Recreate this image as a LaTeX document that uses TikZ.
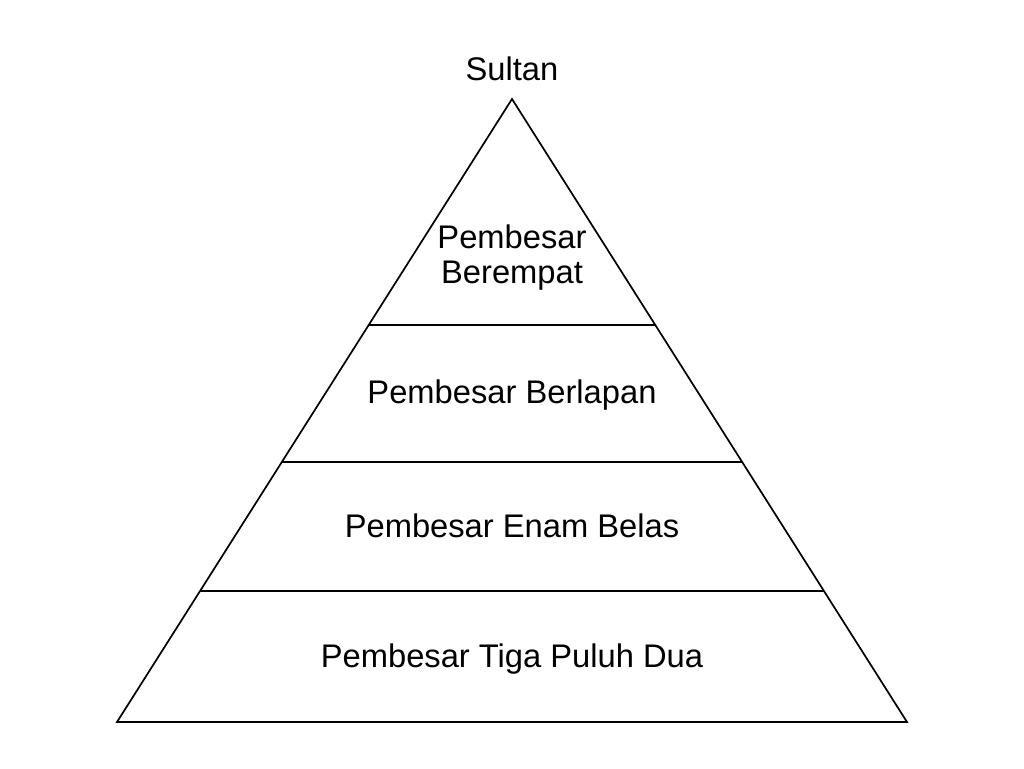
\documentclass[tikz,border=0pt]{standalone}
\usepackage{fontspec}
\setmainfont{Liberation Sans}
\begin{document}
\begin{tikzpicture}[x=1pt,y=-1pt,line width=1.7pt,
   tier/.style={font=\fontsize{32.7}{35}\selectfont,align=center}]
   \useasboundingbox[fill=white] (0,0) rectangle (1024,768);
   \coordinate (top) at (512,99);
   \coordinate (bl) at (117,722);
   \coordinate (br) at (907,722);
   \draw (top) -- (br) -- (bl) -- cycle;
   \draw (368.7,325) -- (655.3,325)
   (282,462) -- (742,462)
   (200.3,591) -- (823.7,591);
   \node[tier] (sultan) at (512,69) {Sultan};
   \node[tier] (empat) at (512,258) {Pembesar\\Berempat};
   \node[tier] (lapan) at (512,395) {Pembesar Berlapan};
   \node[tier] (enam) at (512,526) {Pembesar Enam Belas};
   \node[tier] (tiga) at (512,659) {Pembesar Tiga Puluh Dua};
\end{tikzpicture}
\end{document}
